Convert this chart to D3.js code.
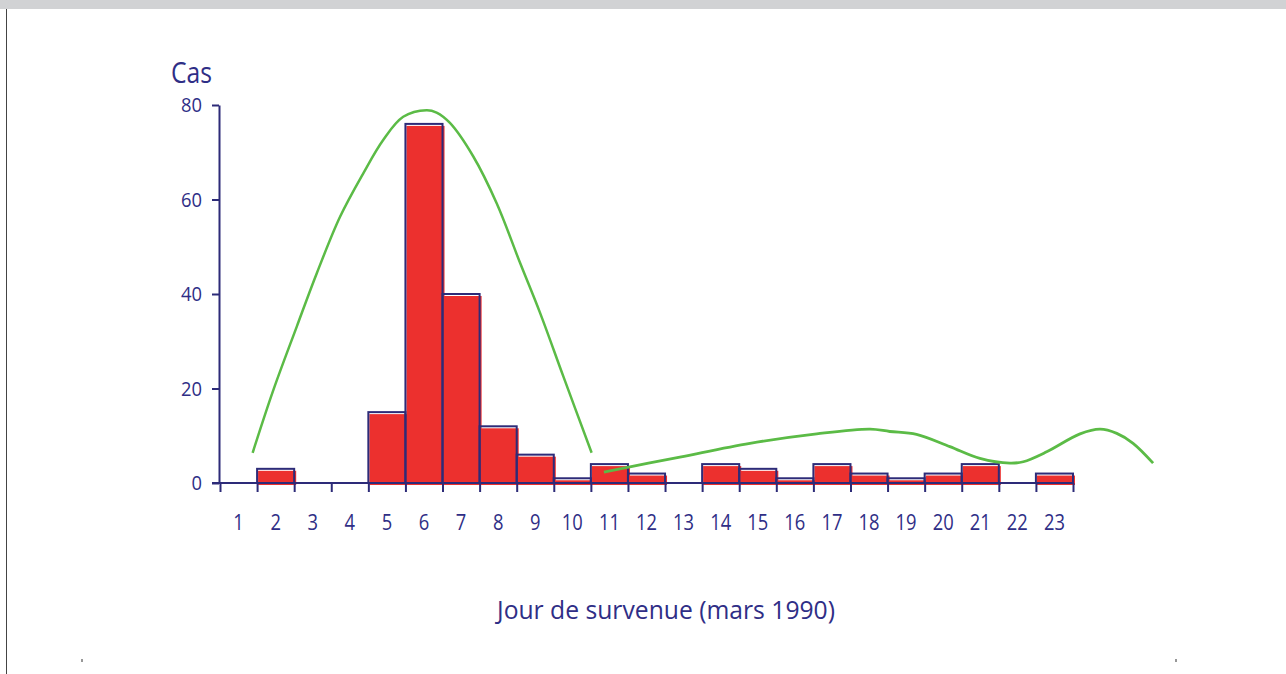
<!DOCTYPE html>
<html>
<head>
<meta charset="utf-8">
<script src="https://cdn.jsdelivr.net/npm/d3@7"></script>
<style>
  html, body { margin: 0; padding: 0; background: #fff; }
  svg { display: block; }
  text { font-family: "Open Sans", "Noto Sans", sans-serif; fill: #2f2e86; }
</style>
</head>
<body>
<svg id="chart" width="1286" height="674"></svg>
<script>
// ---- data ----
const days = [1,2,3,4,5,6,7,8,9,10,11,12,13,14,15,16,17,18,19,20,21,22,23];
const cases = [0,3,0,0,15,76,40,12,6,1,4,2,0,4,3,1,4,2,1,2,4,0,2];
const yTicks = [0,20,40,60,80];
// green trend curve 1 (day position, cases)
const curve1X = [1.38,1.94,2.57,3.11,3.74,4.36,4.90,5.44,6.07,6.34,6.70,7.33,7.96,8.59,9.13,9.76,10.52];
const curve1Y = [6.4,19.7,33.1,44.4,56.4,65.5,72.6,77.5,78.9,78.4,76.2,69.1,59.2,46.6,36.0,22.5,6.4];
// green trend curve 2
const curve2X = [10.85,12.9,14.79,16.59,18.03,18.56,19.28,20.18,20.99,21.80,22.16,22.79,23.69,24.23,24.68,25.12,25.66];
const curve2Y = [2.3,5.5,8.4,10.4,11.4,10.9,10.3,7.7,5.2,4.2,4.5,6.6,10.4,11.4,10.5,8.4,4.2];
const yTitle = "Cas";
const xTitle = "Jour de survenue (mars 1990)";

// ---- layout ----
const navy = "#2d2b78";
const red = "#ec302e";
const green = "#5bbb46";
const svg = d3.select("#chart");

// page decorations
svg.append("rect").attr("x",0).attr("y",0).attr("width",1286).attr("height",9).attr("fill","#d1d2d4");
svg.append("line").attr("x1",6.5).attr("x2",6.5).attr("y1",9).attr("y2",674).attr("stroke","#444").attr("stroke-width",1);
svg.append("rect").attr("x",81.5).attr("y",659).attr("width",1).attr("height",3).attr("fill","#333");
svg.append("rect").attr("x",1175.5).attr("y",659).attr("width",1).attr("height",3).attr("fill","#333");

const x = d3.scaleLinear().domain([0.5, 23.5]).range([220, 1073]);
const y = d3.scaleLinear().domain([0, 80]).range([483, 105]);

// bars: red fill (slightly offset like print misregistration) then navy outline
const bars = svg.append("g");
days.forEach((d, i) => {
  const v = cases[i];
  if (v <= 0) return;
  const x0 = x(d - 0.5), x1 = x(d + 0.5);
  bars.append("rect")
    .attr("x", x0 + 1).attr("y", y(v) + 2)
    .attr("width", x1 - x0 + 1).attr("height", y(0) - y(v))
    .attr("fill", red);
});
days.forEach((d, i) => {
  const v = cases[i];
  if (v <= 0) return;
  const x0 = x(d - 0.5), x1 = x(d + 0.5);
  bars.append("rect")
    .attr("x", x0).attr("y", y(v))
    .attr("width", x1 - x0).attr("height", y(0) - y(v))
    .attr("fill", "none").attr("stroke", navy).attr("stroke-width", 2);
});

// x axis line & ticks
svg.append("line").attr("x1",212).attr("x2",x(23.5)).attr("y1",y(0)).attr("y2",y(0))
  .attr("stroke",navy).attr("stroke-width",2);
const edges = days.map(d => d - 0.5).concat([23.5]);
const xAxis = d3.axisBottom(x).tickValues(edges).tickFormat("").tickSize(9).tickSizeOuter(0);
const gx = svg.append("g").attr("transform", `translate(0,${y(0)})`).call(xAxis);
gx.select(".domain").remove();
gx.selectAll(".tick line").attr("stroke", navy).attr("stroke-width", 2);

// x labels (condensed look)
svg.append("g").selectAll("text").data(days).join("text")
  .attr("x", d => x(d)).attr("y", 530)
  .attr("text-anchor", "middle").attr("font-size", 21)
  .attr("textLength", d => String(d).length * 10.5).attr("lengthAdjust", "spacingAndGlyphs")
  .text(d => d);

// y axis
const yAxis = d3.axisLeft(y).tickValues(yTicks).tickSize(7).tickSizeOuter(0).tickPadding(10);
const gy = svg.append("g").attr("transform", "translate(219,0)").call(yAxis);
gy.select(".domain").attr("stroke", navy).attr("stroke-width", 2);
gy.selectAll(".tick line").attr("stroke", navy).attr("stroke-width", 2);
gy.selectAll(".tick text").attr("font-size", 20.5).attr("fill", "#2f2e86")
  .attr("font-family", "\"Open Sans\", sans-serif")
  .attr("textLength", d => String(d).length * 10.5).attr("lengthAdjust", "spacingAndGlyphs");

// green curves
const line = d3.line().x(p => x(p[0])).y(p => y(p[1])).curve(d3.curveCatmullRom.alpha(0.5));
svg.append("path").datum(curve1X.map((v,i)=>[v, curve1Y[i]]))
  .attr("d", line).attr("fill","none").attr("stroke",green).attr("stroke-width",2.5);
svg.append("path").datum(curve2X.map((v,i)=>[v, curve2Y[i]]))
  .attr("d", line).attr("fill","none").attr("stroke",green).attr("stroke-width",2.8);

// titles
svg.append("text").attr("x", 171).attr("y", 83).attr("font-size", 29)
  .attr("textLength", 41).attr("lengthAdjust", "spacingAndGlyphs").text(yTitle);
svg.append("text").attr("x", 497).attr("y", 619).attr("font-size", 25)
  .attr("textLength", 338).attr("lengthAdjust", "spacingAndGlyphs").text(xTitle);
</script>
</body>
</html>
